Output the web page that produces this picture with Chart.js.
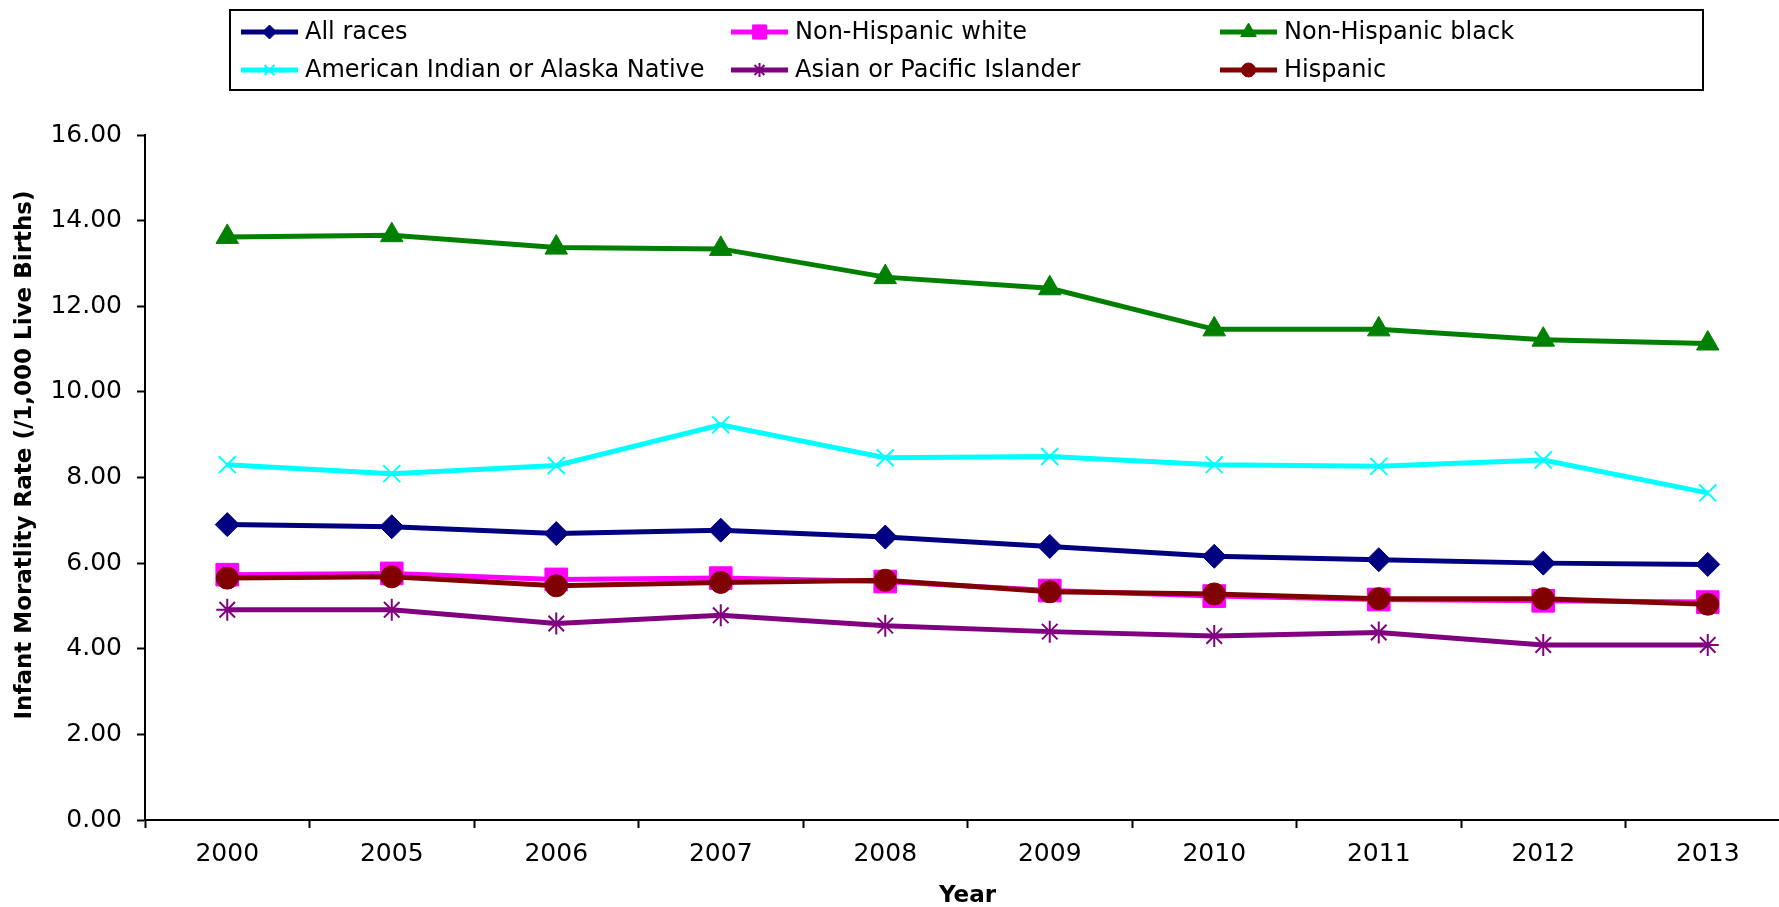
<!DOCTYPE html>
<html>
<head>
<meta charset="utf-8">
<script src="https://cdn.jsdelivr.net/npm/chart.js@4"></script>
<style>
  html, body { margin: 0; padding: 0; background: #fff; overflow: hidden; }
</style>
</head>
<body>
<canvas id="mortalityChart" width="1807" height="907"></canvas>
<script>
/* Data */
const years = ['2000', '2005', '2006', '2007', '2008', '2009', '2010', '2011', '2012', '2013'];
const allRaces = [6.90, 6.85, 6.69, 6.77, 6.61, 6.39, 6.16, 6.08, 6.00, 5.97];
const nhWhite = [5.73, 5.76, 5.62, 5.65, 5.57, 5.36, 5.23, 5.15, 5.12, 5.09];
const nhBlack = [13.62, 13.66, 13.37, 13.34, 12.68, 12.42, 11.46, 11.46, 11.22, 11.13];
const amIndian = [8.30, 8.09, 8.28, 9.23, 8.46, 8.49, 8.30, 8.26, 8.41, 7.64];
const asianPI = [4.91, 4.91, 4.59, 4.78, 4.54, 4.40, 4.30, 4.38, 4.09, 4.09];
const hispanic = [5.65, 5.68, 5.47, 5.55, 5.60, 5.33, 5.28, 5.17, 5.17, 5.04];

const yTicks = [0, 2, 4, 6, 8, 10, 12, 14, 16];
const yTitle = 'Infant Moratlity Rate (/1,000 Live Births)';

const fontFamily = '"DejaVu Sans", Verdana, sans-serif';

// one entry per series: label, data, colour, marker
const makeSeries = function(label, data, color, style, radius, markerBorder) {
    return {
        label: label,
        data: data,
        borderColor: color,
        backgroundColor: color,
        borderWidth: 5,
        tension: 0,
        pointStyle: style,
        pointRadius: radius,
        pointHoverRadius: radius,
        pointBackgroundColor: color,
        pointBorderColor: color,
        pointBorderWidth: markerBorder
    }
}

const series = [
    makeSeries('All races', allRaces, '#000080', 'rectRot', 12, 1),
    makeSeries('Non-Hispanic white', nhWhite, '#FF00FF', 'rect', 16, 1),
    makeSeries('Non-Hispanic black', nhBlack, '#008000', 'triangle', 13, 1),
    makeSeries('American Indian or Alaska Native', amIndian, '#00FFFF', 'crossRot', 12, 2),
    makeSeries('Asian or Pacific Islander', asianPI, '#800080', 'star', 11, 2),
    makeSeries('Hispanic', hispanic, '#800000', 'circle', 11, 1)
];
// later series sit on top, like the original
series.forEach((s, i) => { s.order = series.length - 1 - i; });

/* Boxed legend, 3 columns x 2 rows, plus the y title (sits a bit above centre) */
const boxLegend = {
    id: 'boxLegend',
    afterDraw(chart) {
        const ctx = chart.ctx;
        const box = { left: 230, top: 10, right: 1703, bottom: 90 };
        const colX = [241, 731, 1220];
        const rowY = [32, 70];
        ctx.save();
        ctx.strokeStyle = '#000';
        ctx.lineWidth = 2;
        ctx.strokeRect(box.left, box.top, box.right - box.left, box.bottom - box.top);
        ctx.font = '24px ' + fontFamily;
        ctx.textBaseline = 'middle';
        ctx.textAlign = 'left';
        series.forEach((s, i) => {
            const x = colX[i % 3];
            const y = rowY[Math.floor(i / 3)];
            ctx.strokeStyle = s.borderColor;
            ctx.lineWidth = 5;
            ctx.beginPath();
            ctx.moveTo(x, y);
            ctx.lineTo(x + 57, y);
            ctx.stroke();
            ctx.fillStyle = s.borderColor;
            ctx.lineWidth = s.pointBorderWidth;
            let r = s.pointStyle == 'triangle' ? 9 : (s.pointStyle == 'rect' ? 10 : 7);
            Chart.helpers.drawPoint(ctx, { pointStyle: s.pointStyle, radius: r, rotation: 0, borderWidth: s.pointBorderWidth }, x + 28.5, y);
            ctx.fillStyle = '#000';
            ctx.fillText(s.label, x + 64, y + 1);
        });

        // y axis title
        ctx.translate(25, 455);
        ctx.rotate(-Math.PI / 2);
        ctx.font = 'bold 23px ' + fontFamily;
        ctx.textAlign = 'center';
        ctx.fillStyle = '#000';
        ctx.fillText(yTitle, 0, 0);
        ctx.restore();
    }
}

const ctx = document.getElementById('mortalityChart');
new Chart(ctx, {
    type: 'line',
    data: { labels: years, datasets: series },
    plugins: [boxLegend],
    options: {
        responsive: false,
        animation: false,
        layout: { padding: { top: 135, right: 3, left: 0, bottom: 0 } },
        plugins: {
            legend: { display: false },
            tooltip: { enabled: false }
        },
        scales: {
            x: {
                offset: true,
                afterFit: (scale) => { scale.height = 87; },
                grid: {
                    offset: true,
                    drawOnChartArea: false,
                    drawTicks: true,
                    tickLength: 8,
                    tickWidth: 2,
                    color: '#000'
                },
                border: { display: true, color: '#000', width: 2 },
                ticks: {
                    color: '#000',
                    padding: 11,
                    maxRotation: 0,
                    font: { family: fontFamily, size: 25 }
                },
                title: {
                    display: true,
                    text: 'Year',
                    color: '#000',
                    padding: { top: 0, bottom: -3 },
                    font: { family: fontFamily, size: 23, weight: 'bold' }
                }
            },
            y: {
                min: 0,
                max: 16,
                afterFit: (scale) => { scale.width = 145; },
                afterBuildTicks: (scale) => { scale.ticks = yTicks.map(v => ({ value: v })); },
                grid: {
                    drawOnChartArea: false,
                    drawTicks: true,
                    tickLength: 8,
                    tickWidth: 2,
                    color: '#000'
                },
                border: { display: true, color: '#000', width: 2 },
                ticks: {
                    color: '#000',
                    padding: 15,
                    font: { family: fontFamily, size: 25 },
                    callback: (v) => Number(v).toFixed(2)
                },
                title: { display: false }
            }
        }
    }
});
</script>
</body>
</html>
